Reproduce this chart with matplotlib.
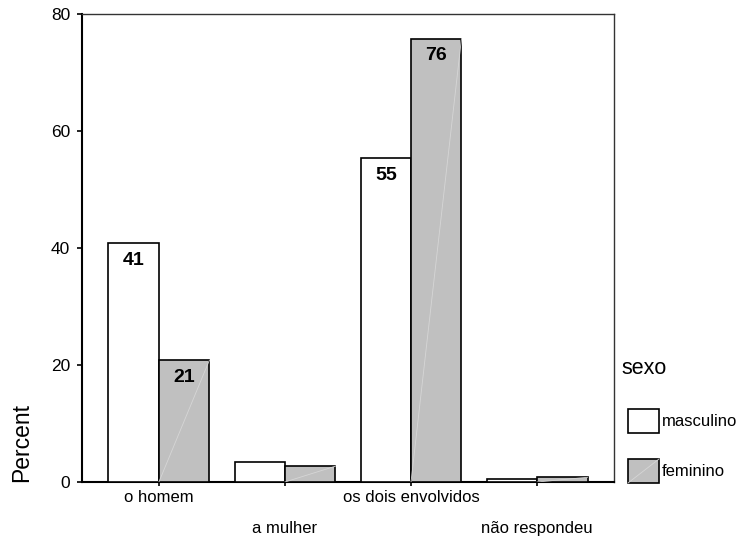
import numpy as np
import matplotlib
matplotlib.use("Agg")
import matplotlib.pyplot as plt
from matplotlib.patches import Rectangle
from matplotlib.lines import Line2D

plt.rcParams["font.family"] = ["Liberation Sans", "DejaVu Sans"]

# data
categories = ["o homem", "a mulher", "os dois envolvidos", "não respondeu"]
series_names = ["masculino", "feminino"]
masculino = [40.8, 3.4, 55.3, 0.5]
feminino = [20.8, 2.7, 75.8, 0.8]
bar_labels_m = ["41", "", "55", ""]
bar_labels_f = ["21", "", "76", ""]
yticks = [0, 20, 40, 60, 80]

COLORS = ["#ffffff", "#c0c0c0"]
STREAK = "#d6d6d6"
PX = 72 / 100  # points per pixel at dpi 100

fig = plt.figure(figsize=(7.46, 5.41), dpi=100)
ax = fig.add_axes([82 / 746, 59 / 541, 532 / 746, 468 / 541])

x = np.arange(len(categories))
w = 0.4
bars_m = ax.bar(x - w / 2, masculino, w, color=COLORS[0], edgecolor="black", linewidth=1.2, zorder=3)
bars_f = ax.bar(x + w / 2, feminino, w, color=COLORS[1], edgecolor="black", linewidth=1.2, zorder=3)

# faint diagonal streak seen in the grey bars
for b in bars_f:
    x0, y0 = b.get_x(), b.get_y()
    ax.plot([x0, x0 + b.get_width()], [y0, y0 + b.get_height()],
            color=STREAK, lw=0.6, zorder=4)

for bars, labels in ((bars_m, bar_labels_m), (bars_f, bar_labels_f)):
    for b, lab in zip(bars, labels):
        if lab:
            ax.annotate(lab, (b.get_x() + b.get_width() / 2, b.get_height()),
                        textcoords="offset points", xytext=(0, -17 * PX),
                        ha="center", va="center", fontsize=14, fontweight="bold", zorder=5)

ax.set_xlim(-0.61, 3.61)
ax.set_ylim(0, 80)
ax.set_yticks(yticks)
ax.set_yticklabels([str(v) for v in yticks], fontsize=12.5)
ax.set_xticks(x)
ax.set_xticklabels(categories, fontsize=12)

ax.tick_params(axis="y", length=5 * PX, width=1.2, pad=7 * PX)
ax.tick_params(axis="x", length=4 * PX, width=1.2)
# staggered category labels
for i, t in enumerate(ax.xaxis.get_major_ticks()):
    t.set_pad(4 * PX if i % 2 == 0 else 35 * PX)

for s in ("left", "bottom"):
    ax.spines[s].set_linewidth(1.5)
for s in ("top", "right"):
    ax.spines[s].set_linewidth(1.0)
    ax.spines[s].set_color("#333333")

fig.text(22 / 746, 1 - 442 / 541, "Percent", rotation=90, ha="center", va="center", fontsize=16.5)

# legend drawn by hand to match the SPSS layout
fig.text(621 / 746, 1 - 368 / 541, "sexo", ha="left", va="center", fontsize=15.5)
for i, name in enumerate(series_names):
    cy = 421 + 50 * i
    bx, by = 628 / 746, 1 - (cy + 12) / 541
    bw, bh = 31 / 746, 24 / 541
    fig.add_artist(Rectangle((bx, by), bw, bh, transform=fig.transFigure,
                             facecolor=COLORS[i], edgecolor="black", linewidth=1.2))
    if i == 1:
        fig.add_artist(Line2D([bx, bx + bw], [by, by + bh], transform=fig.transFigure,
                              color=STREAK, lw=0.6))
    fig.text(662 / 746, 1 - cy / 541, name, ha="left", va="center", fontsize=12)

fig.savefig("out.png", dpi=100)
